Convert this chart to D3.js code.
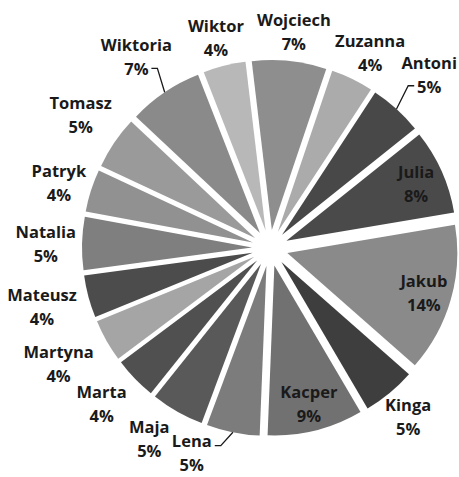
<!DOCTYPE html>
<html lang="pl">
  <head>
    <meta charset="UTF-8" />
    <title>Imiona</title>
    <script src="https://d3js.org/d3.v7.min.js"></script>
    <style>
      body {
        margin: 0;
        background: #fff;
      }
      svg {
        display: block;
      }
      .lbl {
        font-family: "Open Sans", "Noto Sans", sans-serif;
        font-weight: 700;
        font-size: 16.5px;
        fill: #1a1a1a;
      }
    </style>
  </head>
  <body>
    <svg width="459" height="477"></svg>

    <script>
      const names = [
        "Wojciech", "Zuzanna", "Antoni", "Julia", "Jakub", "Kinga",
        "Kacper", "Lena", "Maja", "Marta", "Martyna", "Mateusz",
        "Natalia", "Patryk", "Tomasz", "Wiktoria", "Wiktor",
      ];
      const percents = [7, 4, 5, 8, 14, 5, 9, 5, 5, 4, 4, 4, 5, 4, 5, 7, 4];
      const shades = [
        "#8e8e8e", "#ababab", "#484848", "#4a4a4a", "#8a8a8a", "#3e3e3e",
        "#717171", "#7c7c7c", "#595959", "#505050", "#a5a5a5", "#4c4c4c",
        "#7f7f7f", "#919191", "#9a9a9a", "#8a8a8a", "#b8b8b8",
      ];
      const inside = ["Julia", "Jakub", "Kacper"];

      // labels Excel pulled aside, with a leader line
      const leaders = ["Antoni", "Wiktoria", "Lena"];
      const nudge = {
        Antoni: [10, -13],
        Wiktoria: [-5, -11],
        Lena: [-36, -10],
        Maja: [-15, 0],
        Martyna: [-12, 8],
        Tomasz: [-3, -12],
        Marta: [-11, 3],
        Mateusz: [-7, 2],
      };

      const data = names.map((n, i) => ({ name: n, pct: percents[i], color: shades[i] }));

      const svg = d3.select("svg");
      const cx = 270, cy = 248;
      const R = 170, explode = 18;
      const start = (-6.8 * Math.PI) / 180;

      const pie = d3
        .pie()
        .sort(null)
        .value((d) => d.pct)
        .startAngle(start)
        .endAngle(start + 2 * Math.PI);

      const arc = d3.arc().innerRadius(0).outerRadius(R);
      const arcs = pie(data);
      const mid = (d) => (d.startAngle + d.endAngle) / 2;

      const g = svg.append("g").attr("transform", `translate(${cx},${cy})`);

      g.selectAll("path")
        .data(arcs)
        .join("path")
        .attr("d", arc)
        .attr("fill", (d) => d.data.color)
        .attr("transform", (d) => {
          const a = mid(d);
          return `translate(${Math.sin(a) * explode},${-Math.cos(a) * explode})`;
        });

      const lineH = 24;
      const anchorR = R + explode + 6;

      arcs.forEach((d) => {
        const a = mid(d);
        const s = Math.sin(a), c = -Math.cos(a);
        const t = g.append("text").attr("class", "lbl").attr("text-anchor", "middle");
        t.append("tspan").attr("x", 0).attr("dy", 0).text(d.data.name);
        t.append("tspan").attr("x", 0).attr("dy", lineH).text(d.data.pct + "%");

        let x, y;
        if (inside.includes(d.data.name)) {
          x = s * 160;
          y = c * 160;
        } else {
          const w = t.node().getBBox().width;
          x = s * anchorR + (s * w) / 2;
          y = c * anchorR + (c * lineH * 2) / 2;
          const n = nudge[d.data.name];
          if (n) {
            x += n[0];
            y += n[1];
          }
        }
        // x,y is the centre of the two-line block
        t.attr("transform", `translate(${x},${y - lineH / 2 + 7})`);

        if (leaders.includes(d.data.name)) {
          const ex = s * (R + explode), ey = c * (R + explode);
          const side = ex < x ? -1 : 1;
          let lx, ly;
          if (d.data.name === "Lena") {
            lx = x + 23;
            ly = y - lineH / 2 + 6;
          } else {
            lx = side < 0 ? x - 15 : x + 15;
            ly = y + lineH / 2;
          }
          const kx = lx + (side < 0 ? -6 : 6);
          g.append("polyline")
            .attr("points", `${lx},${ly} ${kx},${ly} ${ex},${ey}`)
            .attr("fill", "none")
            .attr("stroke", "#1a1a1a")
            .attr("stroke-width", 1.3);
        }
      });
    </script>
  </body>
</html>
